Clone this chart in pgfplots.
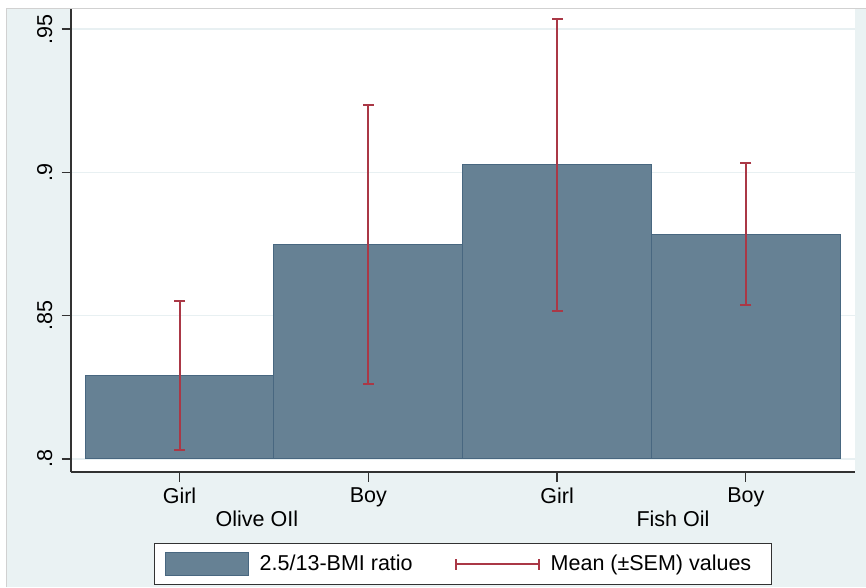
\documentclass[border=0pt]{standalone}
\usepackage{fontspec}
\setmainfont{Liberation Sans}
\usepackage{pgfplots}
\pgfplotsset{compat=1.18}
\definecolor{bgblue}{RGB}{234,242,243}
\definecolor{gridcol}{RGB}{232,240,242}
\definecolor{barcol}{RGB}{102,129,148}
\definecolor{baredge}{RGB}{72,103,128}
\definecolor{errcol}{RGB}{170,56,70}
\definecolor{axiscol}{RGB}{50,50,50}
\newcommand{\fs}{\fontsize{21.5}{25}\selectfont}
\begin{document}
\fs
\begin{tikzpicture}[x=1pt,y=1pt]
\useasboundingbox (0,0) rectangle (866,587);
\fill[white] (0,0) rectangle (866,587);
\fill[bgblue] (6.5,0) rectangle (866,578.5);
\draw[black!18, line width=1pt] (6.5,0) -- (6.5,578.5) -- (866,578.5);
\begin{axis}[
  at={(71pt,115pt)}, anchor=south west,
  scale only axis, width=784pt, height=463pt,
  xmin=-0.5747, xmax=3.578,
  ymin=0.79546, ymax=0.95701,
  clip=false,
  axis background/.style={fill=white},
  axis lines*=left,
  axis line style={axiscol, line width=1.3pt},
  tick align=outside,
  major tick length=9.5pt,
  tick style={axiscol, line width=1.2pt},
  xtick={0,1,2,3},
  xticklabels={Girl,Boy,Girl,Boy},
  ytick={0.8,0.85,0.9,0.95},
  yticklabels={.8,.85,.9,.95},
  ymajorgrids,
  grid style={gridcol, line width=1.3pt},
  xticklabel style={font=\fs, anchor=north, inner sep=6pt},
  yticklabel style={font=\fs, rotate=90, anchor=south, inner sep=9pt},
  legend columns=2,
  legend style={at={(0.5,-0.15335)}, anchor=north, draw=axiscol, line width=1.2pt,
    fill=white, inner xsep=10pt, inner ysep=8.5pt, font=\fs,
    nodes={inner sep=0pt},
    /tikz/every odd column/.append style={column sep=11pt},
    /tikz/every even column/.append style={column sep=42pt}},
  errstyle/.style={draw=errcol, line width=2pt, mark=-, mark size=5.5pt,
    mark options={solid, draw=errcol, line width=2pt}},
]
\addplot[fill=barcol, draw=baredge, line width=1pt,
  legend image code/.code={\draw[fill=barcol, draw=baredge, line width=1pt] (0pt,-11.5pt) rectangle (83pt,11.5pt);}]
  coordinates {(-0.5,0.8) (-0.5,0.8293) (0.5,0.8293) (0.5,0.8)} --cycle;
\addlegendentry{2.5/13-BMI ratio}
\addplot[fill=barcol, draw=baredge, line width=1pt, forget plot]
  coordinates {(0.5,0.8) (0.5,0.8749) (1.5,0.8749) (1.5,0.8)} --cycle;
\addplot[fill=barcol, draw=baredge, line width=1pt, forget plot]
  coordinates {(1.5,0.8) (1.5,0.9026) (2.5,0.9026) (2.5,0.8)} --cycle;
\addplot[fill=barcol, draw=baredge, line width=1pt, forget plot]
  coordinates {(2.5,0.8) (2.5,0.8784) (3.5,0.8784) (3.5,0.8)} --cycle;
% Mean (+-SEM): lower and upper ends
\addplot[errstyle,
  legend image code/.code={\draw[errcol, line width=2pt] (0pt,0pt) -- (83pt,0pt);
     \draw[errcol, line width=2pt] (0pt,-5.5pt) -- (0pt,5.5pt);
     \draw[errcol, line width=2pt] (83pt,-5.5pt) -- (83pt,5.5pt);}]
  coordinates {(0,0.8033) (0,0.8553)};
\addlegendentry{Mean (\textpm SEM) values\kern10pt}
\addplot[errstyle, forget plot] coordinates {(1,0.8262) (1,0.9236)};
\addplot[errstyle, forget plot] coordinates {(2,0.8516) (2,0.9536)};
\addplot[errstyle, forget plot] coordinates {(3,0.8536) (3,0.9032)};
\node[anchor=base, inner sep=0pt, font=\fs] at (axis cs:0.41,0.7763) {Olive OIl};
\node[anchor=base, inner sep=0pt, font=\fs] at (axis cs:2.614,0.7763) {Fish Oil};
\end{axis}
\end{tikzpicture}
\end{document}
